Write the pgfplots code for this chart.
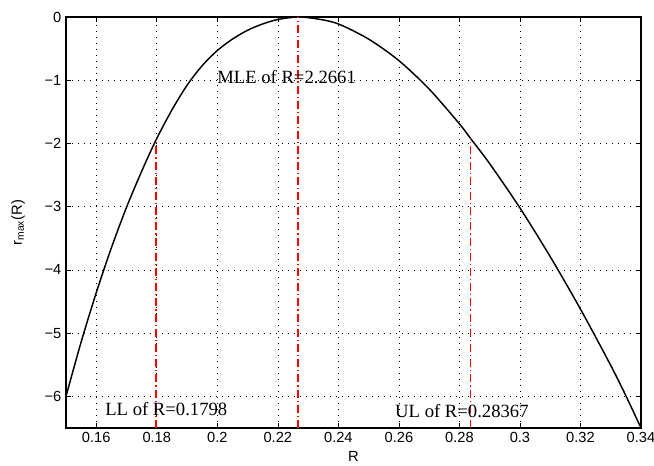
\documentclass[border=0pt]{standalone}
\usepackage{pgfplots}
\pgfplotsset{compat=1.18}
\usepackage{fontspec}
\setmainfont{Liberation Sans}
\newfontfamily\timesfont{Liberation Serif}

\begin{document}
\begin{tikzpicture}
\begin{axis}[
  at={(0,0)}, anchor=south west,
  scale only axis,
  width=431.25pt, height=308.25pt,
  xmin=0.15, xmax=0.34,
  ymin=-6.5, ymax=0,
  xtick={0.16,0.18,0.20,0.22,0.24,0.26,0.28,0.30,0.32,0.34},
  xticklabels={0.16,0.18,0.2,0.22,0.24,0.26,0.28,0.3,0.32,0.34},
  ytick={-6,-5,-4,-3,-2,-1,0},
  yticklabels={−6,−5,−4,−3,−2,−1,0},
  tick align=inside,
  major tick length=4pt,
  tick style={black, line width=0.5pt},
  axis line style={line width=0.8pt},
  ticklabel style={font=\fontsize{11}{13}\selectfont},
  grid=major,
  major grid style={black, line width=0.5pt, dash pattern=on 0.6pt off 3.9pt},
  xlabel={R},
  ylabel={r\textsubscript{max}(R)},
  xlabel style={at={(axis description cs:0.5,0)}, anchor=center, yshift=-21pt, font=\fontsize{11}{13}\selectfont},
  ylabel style={at={(axis description cs:0,0.5)}, anchor=center, yshift=36pt, font=\fontsize{11}{13}\selectfont},
  clip=false,
]
% r_max(R) curve, values
\addplot[black, line width=1.1pt, smooth, tension=0.5] coordinates {
  (0.150,-6.00) (0.155,-5.14) (0.160,-4.36) (0.165,-3.65) (0.170,-3.01)
  (0.175,-2.44) (0.1798,-1.94) (0.185,-1.47) (0.190,-1.08) (0.195,-0.77)
  (0.200,-0.53) (0.205,-0.35) (0.210,-0.21) (0.215,-0.11) (0.220,-0.04)
  (0.2266,0) (0.233,-0.03) (0.240,-0.11) (0.250,-0.35) (0.260,-0.69)
  (0.270,-1.14) (0.280,-1.69) (0.28367,-1.92) (0.290,-2.32) (0.300,-3.02)
  (0.310,-3.79) (0.320,-4.62) (0.330,-5.51) (0.335,-5.99) (0.340,-6.50)
};
% LL, MLE, UL markers
\addplot[red, line width=1.4pt, dash pattern=on 6pt off 2.2pt on 1pt off 2.2pt] coordinates {(0.1798,-6.5) (0.1798,-1.94)};
\addplot[red, line width=1.4pt, dash pattern=on 6pt off 2.2pt on 1pt off 2.2pt] coordinates {(0.2266,-6.5) (0.2266,0)};
\addplot[red, line width=1.4pt, dash pattern=on 6pt off 2.2pt on 1pt off 2.2pt] coordinates {(0.28367,-6.5) (0.28367,-1.92)};
\node[anchor=west, inner sep=0pt, font=\timesfont\fontsize{14}{16}\selectfont] at (axis cs:0.1999,-0.95) {MLE of R=2.2661};
\node[anchor=west, inner sep=0pt, font=\timesfont\fontsize{14}{16}\selectfont] at (axis cs:0.1629,-6.2) {LL of R=0.1798};
\node[anchor=west, inner sep=0pt, font=\timesfont\fontsize{14}{16}\selectfont] at (axis cs:0.2587,-6.23) {UL of R=0.28367};
\end{axis}
\pgfresetboundingbox
\useasboundingbox (-49.5pt,-28.5pt) rectangle (441pt,321pt);
\end{tikzpicture}
\end{document}
